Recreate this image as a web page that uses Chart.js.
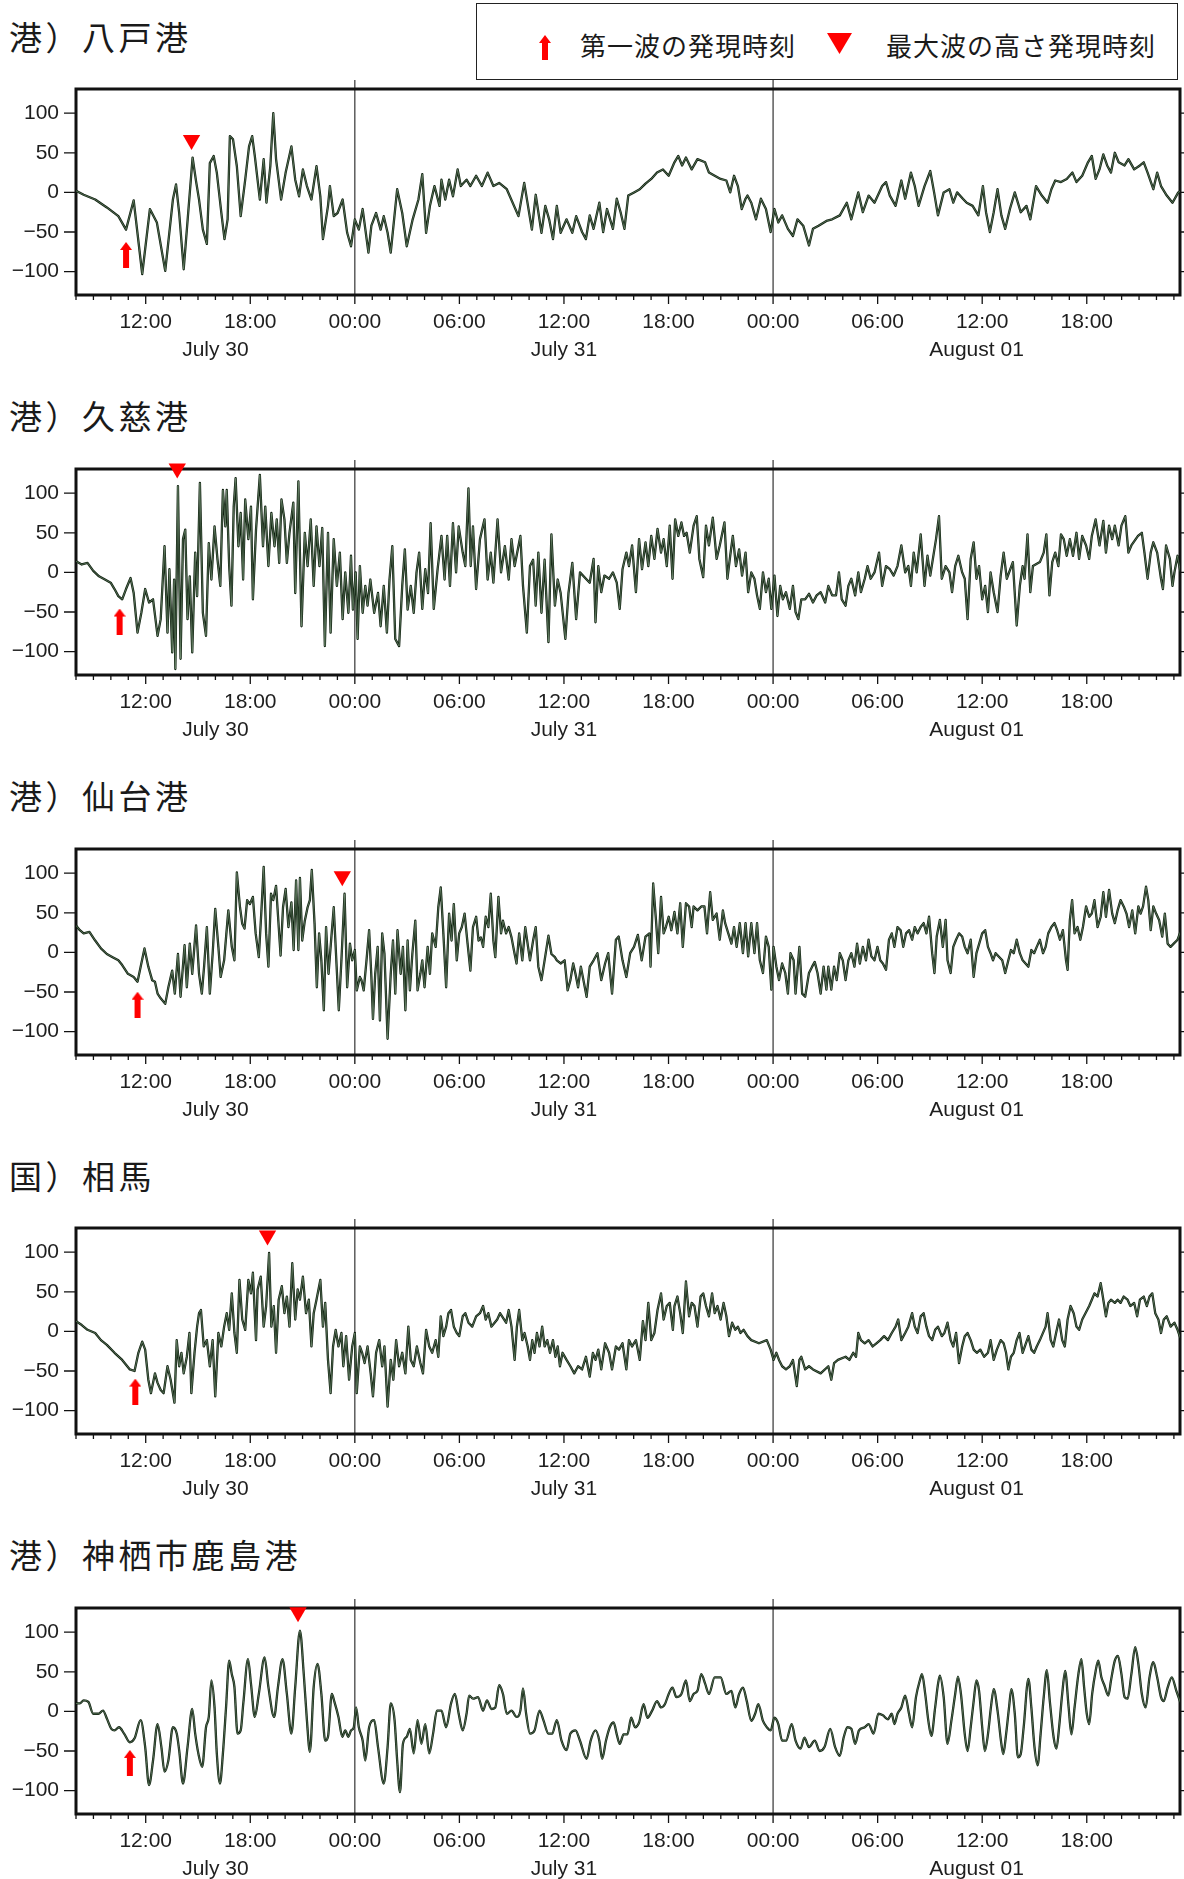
<!DOCTYPE html>
<html>
<head>
<meta charset="utf-8">
<script src="https://cdn.jsdelivr.net/npm/chart.js@4.4.1/dist/chart.umd.min.js"></script>
<style>
  html, body { margin: 0; padding: 0; background: #fff; }
  body { position: relative; width: 1184px; height: 1879px; overflow: hidden; }
  .title { position: absolute; left: 9px; font-family: "Noto Sans CJK JP", sans-serif; font-size: 33px; line-height: 33px; letter-spacing: 3.5px; color: #1a1a1a; white-space: nowrap; }
  .panel { position: absolute; left: 0; width: 1184px; height: 300px; }
  #legend { position: absolute; left: 476px; top: 3px; width: 702px; height: 77px; box-sizing: border-box; border: 1.5px solid #222; }
  .ltext { position: absolute; font-family: "Noto Sans CJK JP", sans-serif; font-size: 26px; line-height: 26px; letter-spacing: 1px; color: #1a1a1a; white-space: nowrap; }
  svg { position: absolute; }
</style>
</head>
<body>
<div id="legend"></div>
<svg style="left:539px;top:35px" width="12" height="25" viewBox="0 0 12 25"><polygon points="6,0 12,8 9,8 9,25 3,25 3,8 0,8" fill="#ff0000"/></svg>
<div class="ltext" style="left:580px;top:32px">第一波の発現時刻</div>
<svg style="left:827px;top:33px" width="25" height="21" viewBox="0 0 25 21"><polygon points="0,0 25,0 12.5,21" fill="#ff0000"/></svg>
<div class="ltext" style="left:886px;top:32px">最大波の高さ発現時刻</div>

<div id="titles"></div>
<div id="panels"></div>

<script>
// ---- data (time = hours since 2024-07-30 00:00, value = cm) ----
const stationNames = ['港）八戸港', '港）久慈港', '港）仙台港', '国）相馬', '港）神栖市鹿島港'];

const hachinohe = [[8.00,2],[8.44,-3],[9.10,-9],[9.77,-19],[10.43,-30],[10.87,-47],[11.31,-10],[11.80,-103],[12.24,-21],[12.64,-38],[13.12,-99],[13.56,-9],[13.74,10],[13.92,-26],[14.18,-97],[14.69,44],[14.89,14],[15.06,-9],[15.28,-47],[15.51,-65],[15.68,37],[15.90,46],[16.08,25],[16.34,-26],[16.52,-59],[16.70,-34],[16.83,71],[17.01,67],[17.23,33],[17.45,-30],[17.71,16],[17.93,58],[18.11,71],[18.26,46],[18.55,-9],[18.77,42],[18.93,-13],[19.15,33],[19.32,100],[19.48,42],[19.77,-9],[20.03,25],[20.36,58],[20.58,16],[20.80,-5],[21.02,29],[21.25,8],[21.51,-9],[21.80,33],[22.02,-5],[22.17,-59],[22.46,-17],[22.57,8],[22.79,-30],[23.01,-26],[23.30,-9],[23.56,-51],[23.78,-68],[24.00,-34],[24.23,-47],[24.45,-21],[24.78,-76],[24.95,-42],[25.22,-26],[25.48,-47],[25.66,-30],[25.88,-51],[26.06,-76],[26.43,4],[26.72,-26],[26.98,-68],[27.32,-34],[27.65,-9],[27.87,23],[28.09,-51],[28.31,-17],[28.57,8],[28.86,-17],[28.97,16],[29.19,-9],[29.41,16],[29.63,-5],[29.90,29],[30.08,8],[30.41,16],[30.63,8],[30.96,21],[31.29,8],[31.62,25],[31.95,8],[32.28,12],[32.72,4],[33.39,-30],[33.72,12],[34.16,-47],[34.38,-3],[34.71,-51],[34.93,-17],[35.15,-34],[35.37,-59],[35.59,-17],[35.81,-51],[36.15,-34],[36.48,-51],[36.70,-30],
[37.04,-50],[37.26,-59],[37.48,-29],[37.70,-46],[38.03,-13],[38.25,-50],[38.47,-21],[38.81,-46],[39.03,-8],[39.25,-25],[39.47,-46],[39.69,-4],[40.02,0],[40.35,4],[40.68,11],[41.01,17],[41.34,25],[41.68,29],[42.01,21],[42.34,38],[42.56,46],[42.78,34],[43.00,44],[43.33,29],[43.66,42],[44.10,38],[44.32,25],[44.65,21],[44.99,17],[45.32,15],[45.54,0],[45.76,21],[45.98,8],[46.20,-21],[46.42,-8],[46.53,-4],[46.75,-13],[47.02,-34],[47.30,-8],[47.59,-21],[47.86,-50],[48.08,-21],[48.30,-38],[48.52,-29],[48.85,-46],[49.14,-55],[49.40,-34],[49.73,-42],[50.06,-67],[50.29,-46],[50.61,-42],[51.06,-36],[51.39,-34],[51.83,-29],[52.23,-13],[52.49,-34],[52.89,0],[53.15,-25],[53.48,-4],[53.82,-13],[54.26,8],[54.48,13],[54.70,-4],[55.03,-17],[55.36,15],[55.58,-8],[55.91,25],[56.13,8],[56.35,-17],[56.69,8],[57.02,27],[57.24,0],[57.46,-29],[57.79,0],[58.12,4],[58.34,-13],[58.56,0],[58.89,-8],[59.11,-13],[59.45,-17],[59.78,-29],[60.04,8],[60.22,-25],[60.44,-50],[60.66,-25],[60.88,4],[61.10,-29],[61.32,-46],[61.59,-21],[61.87,0],[62.21,-25],[62.54,-17],[62.76,-34],[63.09,8],[63.42,-4],[63.75,-13],[63.97,4],[64.19,15],[64.52,13],[64.85,17],[65.18,25],[65.41,13],[65.74,21],[66.07,38],[66.29,46],[66.51,17],[66.73,29],[66.95,48],[67.17,34],[67.39,25],[67.61,50],[67.83,38],[68.17,34],[68.39,42],[68.72,29],[69.05,34],[69.27,38],[69.49,25],[69.82,4],[70.04,25],[70.26,8],[70.59,-4],[70.92,-13],[71.25,0],[71.41,2]];

const kuji = [[8.00,14],[8.33,10],[8.66,12],[8.99,2],[9.32,-5],[9.66,-9],[9.99,-13],[10.21,-21],[10.43,-30],[10.65,-34],[10.87,-21],[11.13,-7],[11.31,-26],[11.53,-76],[11.75,-51],[11.97,-21],[12.19,-38],[12.42,-34],[12.68,-80],[12.86,-59],[13.08,33],[13.25,-76],[13.36,4],[13.52,-101],[13.63,-9],[13.70,-122],[13.85,109],[14.00,-109],[14.14,42],[14.27,54],[14.40,-59],[14.53,-5],[14.67,-101],[14.84,25],[14.95,-30],[15.11,113],[15.28,-51],[15.46,-80],[15.62,37],[15.77,-9],[15.95,58],[16.12,16],[16.28,-17],[16.43,104],[16.57,58],[16.65,104],[16.79,8],[16.92,-42],[17.05,83],[17.16,119],[17.32,33],[17.45,75],[17.59,-9],[17.71,92],[17.89,42],[18.04,83],[18.15,-34],[18.33,54],[18.55,123],[18.73,33],[18.86,83],[19.04,8],[19.21,75],[19.39,33],[19.52,67],[19.66,12],[19.79,92],[19.96,67],[20.10,12],[20.25,50],[20.47,88],[20.58,-26],[20.76,115],[20.94,-68],[21.13,50],[21.29,8],[21.47,67],[21.64,-17],[21.80,58],[21.97,8],[22.13,56],[22.28,-93],[22.46,50],[22.61,-76],[22.79,42],[22.97,-17],[23.14,25],[23.30,-59],[23.45,0],[23.63,-51],[23.78,21],[23.89,-47],[24.05,0],[24.16,-84],[24.29,8],[24.45,-51],[24.60,-17],[24.73,-42],[24.89,-9],[25.11,-51],[25.33,-26],[25.48,-68],[25.66,-17],[25.84,-76],[25.99,-9],[26.15,33],[26.32,-84],[26.54,-93],[26.72,-17],[26.87,29],[27.03,-47],[27.21,-17],[27.38,-51],[27.54,0],[27.69,25],[27.87,-46],[28.04,4],[28.20,-26],[28.35,62],[28.53,-46],[28.75,4],[28.97,46],[29.15,-9],[29.30,46],[29.46,-17],[29.63,62],[29.81,0],[29.96,58],[30.19,25],[30.34,8],[30.52,106],[30.65,8],[30.78,58],[30.96,-21],[31.18,42],[31.44,67],[31.62,-9],[31.80,25],[31.95,-13],[32.19,67],[32.39,0],[32.61,33],[32.83,-9],[32.99,42],[33.17,8],[33.50,46],[33.65,-17],[33.87,-76],[34.05,8],[34.23,16],[34.38,-42],[34.53,25],[34.71,-51],[34.89,16],[35.11,-88],[35.28,48],[35.48,-42],[35.64,-9],[35.81,-26],[36.08,-84],[36.26,-26],[36.48,12],[36.70,-59],[36.92,0],
[37.26,-8],[37.48,-13],[37.70,17],[37.81,-63],[37.97,8],[38.14,-25],[38.32,-4],[38.59,-8],[38.81,0],[39.03,-13],[39.20,-46],[39.36,4],[39.58,25],[39.73,8],[39.91,34],[40.13,-25],[40.31,42],[40.48,4],[40.68,38],[40.84,8],[41.01,46],[41.19,17],[41.37,55],[41.57,25],[41.72,42],[41.90,8],[42.07,59],[42.23,-8],[42.38,67],[42.56,46],[42.74,63],[42.89,46],[43.04,50],[43.22,25],[43.44,59],[43.62,71],[43.77,17],[43.99,-6],[44.15,59],[44.32,34],[44.54,69],[44.76,17],[44.94,34],[45.21,63],[45.38,-8],[45.54,21],[45.69,46],[45.87,8],[46.05,29],[46.22,-4],[46.42,25],[46.57,-25],[46.75,0],[46.93,-8],[47.08,-29],[47.24,-46],[47.42,0],[47.59,-25],[47.75,-8],[47.90,-46],[48.08,-4],[48.25,-55],[48.41,-17],[48.56,-34],[48.74,-25],[48.96,-46],[49.14,-17],[49.29,-50],[49.45,-59],[49.62,-34],[49.84,-34],[50.06,-27],[50.29,-38],[50.50,-29],[50.73,-25],[50.99,-38],[51.17,-17],[51.39,-29],[51.61,-29],[51.78,0],[51.94,-34],[52.16,-42],[52.32,-17],[52.49,-8],[52.71,-29],[52.89,0],[53.04,-25],[53.26,-8],[53.42,8],[53.60,-8],[53.82,0],[54.08,25],[54.26,-17],[54.48,8],[54.70,4],[54.92,-4],[55.14,8],[55.36,34],[55.58,0],[55.76,8],[55.91,-17],[56.07,25],[56.24,0],[56.47,48],[56.69,-17],[56.86,21],[57.02,-4],[57.17,17],[57.35,42],[57.52,71],[57.68,-8],[57.90,8],[58.12,0],[58.27,-25],[58.45,8],[58.63,21],[58.85,0],[59.00,-8],[59.16,-59],[59.34,17],[59.51,38],[59.67,-8],[59.82,8],[60.00,-34],[60.17,-17],[60.33,-50],[60.48,0],[60.66,-25],[60.88,-50],[61.06,-4],[61.23,25],[61.41,-8],[61.76,13],[61.98,-67],[62.16,-17],[62.32,8],[62.43,-8],[62.60,48],[62.76,-25],[62.91,8],[63.31,13],[63.53,25],[63.68,48],[63.86,-29],[64.02,13],[64.19,25],[64.37,8],[64.52,48],[64.68,42],[64.85,21],[65.03,42],[65.21,21],[65.41,50],[65.56,17],[65.74,46],[65.96,34],[66.14,17],[66.29,46],[66.51,67],[66.73,34],[66.95,65],[67.10,25],[67.28,59],[67.46,42],[67.61,59],[67.83,34],[67.99,59],[68.21,71],[68.39,25],[68.56,34],[68.94,46],[69.16,50],[69.31,25],[69.49,-8],[69.67,25],[69.82,38],[70.04,25],[70.26,-8],[70.37,-21],[70.55,34],[70.77,17],[70.92,-17],[71.03,0],[71.21,21],[71.41,-4]];

const sendai = [[8.00,34],[8.22,28],[8.44,24],[8.77,26],[9.10,15],[9.43,5],[9.77,-2],[10.10,-6],[10.43,-10],[10.65,-16],[10.98,-27],[11.31,-31],[11.53,-37],[11.71,-18],[11.93,5],[12.15,-18],[12.37,-35],[12.53,-37],[12.68,-52],[12.86,-58],[13.12,-65],[13.30,-44],[13.52,-23],[13.67,-52],[13.85,-2],[14.00,-56],[14.23,9],[14.36,-44],[14.53,11],[14.67,-27],[14.89,34],[15.06,-27],[15.22,-52],[15.35,-18],[15.51,32],[15.68,-52],[15.84,-2],[15.99,55],[16.17,7],[16.30,-31],[16.50,-10],[16.74,53],[16.94,7],[17.09,-10],[17.23,101],[17.41,57],[17.54,36],[17.67,30],[17.82,66],[17.98,61],[18.15,70],[18.31,24],[18.49,-6],[18.64,53],[18.77,108],[18.91,24],[19.04,-18],[19.19,74],[19.32,66],[19.48,84],[19.61,40],[19.74,-4],[19.88,57],[20.03,80],[20.19,32],[20.36,63],[20.49,3],[20.63,91],[20.76,3],[20.85,94],[20.98,15],[21.13,40],[21.29,57],[21.42,66],[21.53,104],[21.69,36],[21.82,-44],[21.95,24],[22.08,-10],[22.22,-73],[22.35,32],[22.49,-27],[22.61,7],[22.79,57],[22.92,-2],[23.08,-73],[23.23,-10],[23.41,74],[23.56,-44],[23.72,11],[23.85,-10],[24.00,3],[24.11,-48],[24.29,-31],[24.38,-35],[24.51,-48],[24.67,-10],[24.82,28],[24.95,-31],[25.04,-84],[25.17,-27],[25.31,7],[25.44,-86],[25.57,24],[25.70,-2],[25.88,-109],[26.06,-27],[26.19,15],[26.32,-52],[26.45,28],[26.63,-27],[26.76,7],[26.90,-73],[27.03,15],[27.16,-48],[27.30,-2],[27.47,40],[27.60,-48],[27.76,-27],[27.87,-10],[28.00,-44],[28.18,7],[28.31,-27],[28.44,24],[28.64,7],[28.79,57],[28.93,82],[29.08,24],[29.24,-44],[29.41,49],[29.55,15],[29.68,61],[29.85,-10],[29.99,24],[30.14,32],[30.30,49],[30.47,11],[30.63,-23],[30.78,32],[30.96,45],[31.10,15],[31.23,19],[31.36,7],[31.51,45],[31.66,32],[31.80,74],[31.95,15],[32.06,-6],[32.24,70],[32.39,24],[32.50,40],[32.68,24],[32.83,32],[32.99,19],[33.17,-2],[33.28,-14],[33.43,24],[33.61,-10],[33.78,32],[33.94,7],[34.05,-10],[34.23,15],[34.38,32],[34.53,-18],[34.71,-35],[34.89,-10],[35.11,21],[35.28,-2],[35.48,-6],[35.59,-10],[35.81,-14],[36.04,-10],[36.21,-48],[36.37,-35],[36.53,-14],[36.66,-27],[36.81,-44],[36.97,-18],
[37.30,-56],[37.48,-18],[37.70,-10],[37.92,-1],[38.14,-35],[38.36,-14],[38.54,-1],[38.76,-52],[38.98,16],[39.14,20],[39.36,-10],[39.58,-31],[39.80,-1],[40.02,7],[40.24,22],[40.46,-10],[40.68,20],[40.90,24],[40.97,-18],[41.12,87],[41.28,41],[41.41,-1],[41.57,70],[41.72,24],[41.85,32],[42.01,45],[42.16,28],[42.34,51],[42.51,24],[42.67,62],[42.82,7],[43.00,62],[43.18,58],[43.33,32],[43.44,58],[43.66,53],[43.88,58],[44.06,58],[44.21,24],[44.39,76],[44.54,41],[44.76,49],[44.94,16],[45.12,53],[45.25,37],[45.43,24],[45.61,11],[45.76,32],[45.91,7],[46.09,37],[46.27,-1],[46.42,37],[46.57,-5],[46.75,37],[46.93,-1],[47.08,37],[47.24,-10],[47.42,-26],[47.59,20],[47.75,7],[47.90,-47],[48.03,7],[48.19,-18],[48.34,-35],[48.52,-14],[48.70,-26],[48.85,-52],[49.00,-1],[49.18,-10],[49.29,-52],[49.51,7],[49.67,-52],[49.84,-56],[50.06,-26],[50.24,-18],[50.39,-12],[50.55,-26],[50.73,-52],[50.90,-18],[51.06,-47],[51.17,-18],[51.34,-47],[51.50,-18],[51.65,-35],[51.83,-1],[52.00,-10],[52.16,-35],[52.32,-10],[52.49,-1],[52.67,-18],[52.82,11],[52.98,-14],[53.15,7],[53.33,-10],[53.48,16],[53.64,-5],[53.82,-10],[53.99,7],[54.15,-10],[54.30,-14],[54.48,-22],[54.65,16],[54.81,24],[54.96,7],[55.14,32],[55.32,28],[55.47,7],[55.63,24],[55.80,28],[55.98,16],[56.13,32],[56.29,24],[56.47,32],[56.64,37],[56.80,24],[56.95,45],[57.13,-1],[57.26,-26],[57.39,20],[57.57,41],[57.74,7],[57.90,41],[58.01,-10],[58.19,-26],[58.34,7],[58.50,16],[58.67,24],[58.85,20],[59.00,7],[59.16,-1],[59.34,16],[59.51,-31],[59.67,-1],[60.00,24],[60.17,28],[60.33,7],[60.48,-1],[60.62,-10],[60.77,-1],[61.15,-10],[61.32,-26],[61.50,-10],[61.65,3],[61.81,-1],[61.98,16],[62.16,-1],[62.32,-10],[62.65,-18],[62.82,3],[62.98,-1],[63.13,7],[63.31,16],[63.49,-1],[63.64,7],[63.79,24],[63.97,32],[64.15,37],[64.30,28],[64.46,16],[64.63,28],[64.81,-10],[64.90,-22],[65.03,41],[65.16,66],[65.30,24],[65.47,32],[65.63,16],[65.78,32],[65.96,58],[66.14,45],[66.29,49],[66.44,66],[66.62,32],[66.80,45],[66.95,76],[67.10,45],[67.28,79],[67.46,49],[67.61,37],[67.77,53],[67.94,66],[68.12,58],[68.28,49],[68.43,32],[68.61,53],[68.78,24],[68.96,58],[69.09,49],[69.23,58],[69.40,83],[69.53,66],[69.67,28],[69.82,58],[69.98,49],[70.15,41],[70.33,20],[70.48,49],[70.64,11],[70.81,7],[70.99,11],[71.21,16],[71.41,28]];

const soma = [[8.00,13],[8.33,8],[8.66,2],[9.10,-2],[9.43,-11],[9.77,-17],[10.21,-27],[10.65,-36],[11.09,-48],[11.36,-50],[11.58,-27],[11.80,-13],[11.97,-23],[12.15,-61],[12.30,-78],[12.53,-53],[12.68,-65],[12.86,-74],[13.03,-78],[13.25,-44],[13.43,-61],[13.65,-90],[13.78,-11],[13.92,-44],[14.05,-27],[14.18,-53],[14.36,-32],[14.51,-2],[14.62,-78],[14.80,-27],[14.95,6],[15.06,23],[15.17,27],[15.33,-19],[15.51,-11],[15.68,-44],[15.84,-11],[15.99,-82],[16.17,-2],[16.34,-19],[16.50,6],[16.65,23],[16.79,2],[16.94,48],[17.09,-2],[17.23,-27],[17.38,65],[17.54,15],[17.71,2],[17.89,65],[18.04,48],[18.15,74],[18.33,-11],[18.42,53],[18.60,69],[18.77,6],[18.91,32],[19.08,99],[19.21,6],[19.35,32],[19.48,-27],[19.63,40],[19.81,57],[19.96,23],[20.10,44],[20.25,6],[20.41,86],[20.58,15],[20.72,53],[20.85,40],[21.02,69],[21.20,23],[21.36,40],[21.51,-19],[21.64,23],[21.80,40],[22.02,65],[22.17,6],[22.30,36],[22.46,-36],[22.61,-78],[22.75,-19],[22.90,2],[23.06,-19],[23.23,-2],[23.34,-44],[23.50,-6],[23.67,-61],[23.85,-19],[24.00,-2],[24.11,-78],[24.29,-19],[24.42,-27],[24.56,-40],[24.73,-19],[24.91,-53],[25.04,-82],[25.22,-27],[25.40,-11],[25.57,-44],[25.70,-19],[25.88,-95],[26.06,-36],[26.21,-61],[26.37,-11],[26.54,-44],[26.72,-27],[26.90,-53],[27.07,6],[27.21,-36],[27.38,-44],[27.56,-19],[27.76,-40],[27.91,-53],[28.09,2],[28.27,-19],[28.44,-27],[28.64,-11],[28.79,-32],[28.93,19],[29.08,-6],[29.24,6],[29.37,23],[29.52,27],[29.68,6],[29.85,-2],[29.99,-6],[30.19,19],[30.34,23],[30.52,11],[30.74,6],[30.96,19],[31.18,23],[31.36,32],[31.51,15],[31.66,23],[31.84,6],[32.02,11],[32.17,15],[32.33,23],[32.68,11],[32.83,27],[32.99,6],[33.17,-36],[33.30,6],[33.43,27],[33.61,-11],[33.74,-2],[33.92,-19],[34.05,-36],[34.18,-11],[34.31,-27],[34.45,-2],[34.60,-19],[34.75,6],[34.89,-19],[35.04,-11],[35.20,-27],[35.37,-11],[35.51,-32],[35.64,-19],[35.77,-44],[35.92,-27],[36.15,-36],[36.37,-44],[36.59,-53],[36.81,-44],
[37.04,-48],[37.26,-32],[37.48,-57],[37.66,-27],[37.81,-36],[37.97,-23],[38.14,-48],[38.36,-15],[38.59,-27],[38.76,-48],[38.98,-19],[39.16,-23],[39.36,-15],[39.58,-48],[39.73,-11],[39.91,-19],[40.13,-11],[40.35,-36],[40.53,13],[40.68,-11],[40.84,36],[41.01,-11],[41.19,-2],[41.37,27],[41.57,48],[41.72,15],[41.90,32],[42.07,36],[42.25,2],[42.34,32],[42.51,44],[42.67,23],[42.82,-2],[43.00,63],[43.18,19],[43.33,36],[43.49,32],[43.66,6],[43.84,44],[43.99,48],[44.15,32],[44.32,19],[44.50,48],[44.65,23],[44.81,32],[44.99,15],[45.16,36],[45.32,19],[45.47,-6],[45.65,11],[45.83,2],[45.98,6],[46.13,-2],[46.31,2],[46.53,-6],[46.75,-11],[47.19,-15],[47.64,-11],[47.86,-23],[48.03,-36],[48.19,-27],[48.34,-36],[48.52,-44],[48.74,-48],[48.96,-44],[49.14,-36],[49.36,-69],[49.51,-36],[49.62,-32],[49.84,-48],[50.06,-44],[50.29,-48],[50.73,-53],[51.17,-44],[51.34,-61],[51.50,-40],[51.72,-36],[52.16,-32],[52.38,-36],[52.60,-27],[52.76,-32],[52.89,-2],[53.04,-11],[53.26,-15],[53.48,-11],[53.71,-19],[53.93,-15],[54.15,-11],[54.37,-6],[54.59,-11],[54.81,-2],[55.03,6],[55.18,15],[55.36,-11],[55.58,-2],[55.76,6],[55.98,23],[56.13,6],[56.29,-2],[56.47,19],[56.64,23],[56.80,6],[56.95,-6],[57.13,-11],[57.30,2],[57.46,6],[57.68,-6],[57.83,-2],[58.01,11],[58.19,-11],[58.34,-19],[58.50,-2],[58.67,-40],[58.85,-19],[59.00,-6],[59.16,-2],[59.34,-11],[59.51,-23],[59.69,-27],[59.89,-23],[60.11,-32],[60.33,-27],[60.48,-11],[60.66,-36],[60.84,-23],[61.06,-11],[61.23,-15],[61.37,-27],[61.50,-48],[61.65,-32],[61.81,-27],[61.98,-11],[62.14,-2],[62.32,-27],[62.65,-6],[62.82,-23],[62.98,-27],[63.13,-19],[63.31,-11],[63.64,6],[63.75,23],[63.93,-11],[64.08,-19],[64.24,-2],[64.41,15],[64.59,-11],[64.74,-19],[64.90,15],[65.07,32],[65.25,23],[65.41,6],[65.56,2],[65.74,15],[66.14,32],[66.29,40],[66.44,48],[66.62,44],[66.80,61],[66.95,40],[67.10,19],[67.24,36],[67.39,40],[67.61,36],[67.77,40],[67.94,36],[68.12,44],[68.34,40],[68.50,32],[68.72,36],[68.89,19],[69.05,40],[69.27,44],[69.45,32],[69.60,44],[69.76,48],[69.93,23],[70.11,15],[70.26,-2],[70.42,15],[70.59,19],[70.81,6],[71.03,11],[71.21,2],[71.41,-11]];

const kashima = [[8.00,10],[8.22,10],[8.44,14],[8.71,12],[8.99,-3],[9.28,-3],[9.55,1],[9.77,-9],[10.03,-22],[10.21,-24],[10.47,-20],[10.76,-28],[11.09,-39],[11.36,-34],[11.71,-11],[11.97,-45],[12.19,-93],[12.42,-62],[12.68,-16],[12.90,-45],[13.08,-76],[13.30,-62],[13.56,-20],[13.78,-28],[13.92,-49],[14.14,-91],[14.40,-45],[14.67,3],[14.84,-28],[15.02,-53],[15.24,-70],[15.46,-20],[15.62,-7],[15.77,39],[15.95,5],[16.08,-53],[16.26,-91],[16.43,-53],[16.61,5],[16.79,64],[16.94,47],[17.09,31],[17.27,-28],[17.45,-24],[17.60,10],[17.87,66],[18.04,35],[18.26,-7],[18.49,22],[18.82,68],[19.04,31],[19.37,-7],[19.59,31],[19.85,66],[20.10,22],[20.36,-28],[20.58,31],[20.85,102],[21.07,47],[21.25,-11],[21.42,-51],[21.64,31],[21.86,60],[22.08,22],[22.30,-37],[22.46,-32],[22.68,22],[22.83,12],[23.06,-7],[23.28,-32],[23.45,-24],[23.63,-32],[23.78,-24],[23.94,-20],[24.07,5],[24.23,-20],[24.45,-37],[24.60,-62],[24.82,-20],[25.11,-11],[25.33,-45],[25.66,-91],[25.88,-45],[26.06,10],[26.28,-11],[26.43,-62],[26.59,-102],[26.76,-41],[26.98,-32],[27.16,-22],[27.38,-53],[27.60,-11],[27.82,-41],[28.04,-16],[28.27,-53],[28.49,-28],[28.71,1],[28.97,1],[29.24,-20],[29.52,10],[29.74,22],[29.96,-3],[30.19,-24],[30.41,-3],[30.56,20],[30.78,16],[31.07,18],[31.36,1],[31.58,14],[31.84,3],[32.06,5],[32.28,33],[32.50,22],[32.72,-3],[32.99,1],[33.28,-7],[33.50,1],[33.65,29],[33.83,-3],[34.05,-28],[34.31,-24],[34.60,1],[34.82,-11],[35.11,-28],[35.33,-28],[35.59,-11],[35.86,-37],[36.15,-49],[36.37,-28],[36.66,-24],[36.92,-37],
[37.30,-60],[37.53,-37],[37.81,-24],[38.03,-37],[38.19,-60],[38.41,-37],[38.63,-20],[38.85,-14],[39.03,-29],[39.20,-41],[39.42,-29],[39.64,-29],[39.86,-8],[40.08,-20],[40.31,-14],[40.57,9],[40.79,-8],[41.06,1],[41.34,13],[41.57,5],[41.79,9],[42.01,22],[42.23,30],[42.45,18],[42.74,22],[43.00,39],[43.22,13],[43.44,22],[43.66,26],[43.88,47],[44.10,35],[44.32,22],[44.65,43],[44.99,43],[45.32,22],[45.61,26],[45.83,5],[46.05,22],[46.27,30],[46.49,13],[46.75,-12],[46.97,-3],[47.15,9],[47.42,-12],[47.64,-20],[47.86,-24],[48.08,-8],[48.30,-16],[48.52,-37],[48.74,-37],[49.07,-16],[49.29,-37],[49.58,-47],[49.80,-33],[50.06,-45],[50.39,-37],[50.68,-50],[50.95,-45],[51.28,-22],[51.56,-45],[51.83,-56],[52.05,-33],[52.27,-20],[52.49,-22],[52.71,-41],[52.93,-24],[53.26,-20],[53.48,-16],[53.77,-28],[54.04,-3],[54.30,-5],[54.59,-10],[54.81,-3],[54.96,-16],[55.14,-3],[55.36,5],[55.58,20],[55.80,-3],[55.98,-20],[56.20,18],[56.42,39],[56.55,47],[56.73,22],[56.91,-12],[57.08,-31],[57.30,5],[57.46,34],[57.57,45],[57.79,18],[58.01,-41],[58.23,-12],[58.45,22],[58.61,44],[58.78,22],[59.00,-29],[59.16,-50],[59.34,-20],[59.51,13],[59.67,39],[59.82,26],[60.00,-20],[60.15,-50],[60.33,-29],[60.50,5],[60.66,28],[60.88,1],[61.10,-41],[61.21,-54],[61.37,-29],[61.54,5],[61.67,28],[61.87,-3],[62.05,-58],[62.21,-54],[62.38,-20],[62.65,41],[62.82,5],[63.00,-45],[63.18,-68],[63.35,-29],[63.53,18],[63.71,52],[63.88,13],[64.10,-33],[64.26,-47],[64.43,-16],[64.59,22],[64.76,51],[64.96,5],[65.12,-29],[65.30,5],[65.52,47],[65.69,66],[65.85,30],[66.00,-3],[66.14,-16],[66.31,22],[66.51,51],[66.66,64],[66.84,43],[67.01,33],[67.24,20],[67.39,39],[67.61,64],[67.79,70],[67.99,47],[68.17,18],[68.34,16],[68.56,47],[68.78,81],[68.96,60],[69.16,22],[69.38,5],[69.60,43],[69.82,62],[70.04,43],[70.26,18],[70.42,13],[70.64,30],[70.88,43],[71.14,26],[71.41,9]];

// marker data: first-wave arrival (arrow) and max-height time (triangle)
const arrivalT = [10.87, 10.50, 11.53, 11.40, 11.09];
const arrivalMarkV = [-79, -62, -66, -76, -65];
const maxT = [14.63, 13.81, 23.28, 18.99, 20.74];
const maxMarkV = [66, 131, 96, 121, 125];

// axes
const yTickValues = [-100, -50, 0, 50, 100];
const xTickHours = [12, 18, 24, 30, 36, 42, 48, 54, 60, 66];
const xTickLabels = ['12:00', '18:00', '00:00', '06:00', '12:00', '18:00', '00:00', '06:00', '12:00', '18:00'];
const dayLabels = ['July 30', 'July 31', 'August 01'];
const dayStarts = [0, 24, 48];
const xMin = 8, xMax = 71.35;
const yMin = -129.5, yMax = 130.5;

const series = [hachinohe, kuji, sendai, soma, kashima];
const smoothPanels = [false, false, false, false, true];

// ---- layout ----
const PANEL_STEP = 379.6;
const FIRST_CANVAS_TOP = 75.3;
const FIRST_TITLE_TOP = 19.7;

Chart.defaults.font.family = '"Liberation Sans", Arial, Helvetica, sans-serif';
Chart.defaults.color = '#1e1e1e';

function makeArrow() {
  const c = document.createElement('canvas');
  c.width = 12; c.height = 26;
  const g = c.getContext('2d');
  g.fillStyle = '#ff0000';
  g.beginPath();
  g.moveTo(6, 0); g.lineTo(12, 8); g.lineTo(9, 8); g.lineTo(9, 26);
  g.lineTo(3, 26); g.lineTo(3, 8); g.lineTo(0, 8); g.closePath();
  g.fill();
  return c;
}
const arrowImg = makeArrow();

const dayCenters = dayStarts.map(d => (Math.max(d, xMin) + Math.min(d + 24, xMax)) / 2);

const decor = {
  id: 'decor',
  beforeDatasetsDraw(chart) {
    const { ctx, chartArea: a } = chart;
    const x = chart.scales.x, y = chart.scales.y;
    ctx.save();
    ctx.strokeStyle = '#333';
    ctx.lineWidth = 1.2;
    dayStarts.forEach(d => {
      if (d > xMin && d < xMax) {
        const px = x.getPixelForValue(d);
        ctx.beginPath(); ctx.moveTo(px, a.top - 9); ctx.lineTo(px, a.bottom); ctx.stroke();
      }
    });
    ctx.strokeStyle = '#111';
    ctx.lineWidth = 1.3;
    for (let h = Math.ceil(xMin); h <= Math.floor(xMax); h++) {
      const px = x.getPixelForValue(h);
      const len = (h % 6 === 0) ? 9 : 5;
      ctx.beginPath(); ctx.moveTo(px, a.bottom); ctx.lineTo(px, a.bottom + len); ctx.stroke();
    }
    yTickValues.forEach(v => {
      const py = y.getPixelForValue(v);
      ctx.beginPath();
      ctx.moveTo(a.left - 12, py); ctx.lineTo(a.left, py);
      ctx.moveTo(a.right, py); ctx.lineTo(a.right + 5, py);
      ctx.stroke();
    });
    ctx.lineWidth = 3;
    ctx.strokeStyle = '#111';
    ctx.strokeRect(a.left, a.top, a.right - a.left, a.bottom - a.top);
    ctx.restore();
  }
};

const noPad = sc => { sc.paddingTop = 0; sc.paddingBottom = 0; sc.paddingLeft = 0; sc.paddingRight = 0; };

const titlesDiv = document.getElementById('titles');
const panelsDiv = document.getElementById('panels');

series.forEach((s, k) => {
  const t = document.createElement('div');
  t.className = 'title';
  t.style.top = (FIRST_TITLE_TOP + PANEL_STEP * k) + 'px';
  t.textContent = stationNames[k];
  titlesDiv.appendChild(t);

  const wrap = document.createElement('div');
  wrap.className = 'panel';
  wrap.style.top = (FIRST_CANVAS_TOP + PANEL_STEP * k) + 'px';
  const cv = document.createElement('canvas');
  cv.width = 1184; cv.height = 300;
  cv.style.width = '1184px'; cv.style.height = '300px';
  wrap.appendChild(cv);
  panelsDiv.appendChild(wrap);

  const pts = s.map(p => ({ x: p[0], y: p[1] }));
  const interp = smoothPanels[k] ? 'monotone' : 'default';
  const tickFont = { size: 21 };

  new Chart(cv, {
    type: 'line',
    data: {
      datasets: [
        { type: 'scatter', data: [{ x: arrivalT[k], y: arrivalMarkV[k] }], pointStyle: arrowImg, pointRadius: 8, clip: false, order: 0 },
        { type: 'scatter', data: [{ x: maxT[k], y: maxMarkV[k] }], pointStyle: 'triangle', rotation: 180, pointRadius: 10,
          backgroundColor: '#ff0000', borderColor: '#ff0000', borderWidth: 0, clip: false, order: 0 },
        { data: pts, borderColor: '#7f9e7f', borderWidth: 0.6, pointRadius: 0, tension: 0,
          cubicInterpolationMode: interp, borderJoinStyle: 'round', order: 1 },
        { data: pts, borderColor: '#0e1f0e', borderWidth: 2.3, pointRadius: 0, tension: 0,
          cubicInterpolationMode: interp, borderJoinStyle: 'round', order: 2 }
      ]
    },
    options: {
      responsive: false,
      animation: false,
      events: [],
      devicePixelRatio: 1,
      layout: { autoPadding: false, padding: { top: 14, right: 4, left: 0, bottom: 0 } },
      plugins: { legend: { display: false }, tooltip: { enabled: false }, title: { display: false } },
      scales: {
        x: {
          type: 'linear', position: 'bottom', weight: 0, min: xMin, max: xMax,
          afterBuildTicks: sc => { sc.ticks = xTickHours.map(v => ({ value: v })); },
          afterFit: sc => { sc.height = 36; noPad(sc); },
          grid: { display: false, drawTicks: false },
          border: { display: false },
          ticks: { autoSkip: false, maxRotation: 0, minRotation: 0, padding: 14.5, font: tickFont, color: '#1e1e1e',
            callback: v => { const i = xTickHours.indexOf(v); return i >= 0 ? xTickLabels[i] : ''; } }
        },
        x2: {
          type: 'linear', position: 'bottom', weight: 1, min: xMin, max: xMax,
          afterBuildTicks: sc => { sc.ticks = dayCenters.map(v => ({ value: v })); },
          afterFit: sc => { sc.height = 44; noPad(sc); },
          grid: { display: false, drawTicks: false },
          border: { display: false },
          ticks: { autoSkip: false, maxRotation: 0, minRotation: 0, padding: 6.5, font: tickFont, color: '#1e1e1e',
            callback: v => { const i = dayCenters.indexOf(v); return i >= 0 ? dayLabels[i] : ''; } }
        },
        y: {
          type: 'linear', position: 'left', min: yMin, max: yMax,
          afterBuildTicks: sc => { sc.ticks = yTickValues.map(v => ({ value: v })); },
          afterFit: sc => { sc.width = 76; noPad(sc); },
          grid: { display: false, drawTicks: false },
          border: { display: false },
          ticks: { padding: 17, font: tickFont, color: '#1e1e1e',
            callback: v => (v < 0 ? '\u2212' + Math.abs(v) : String(v)) }
        }
      }
    },
    plugins: [decor]
  });
});
</script>
</body>
</html>
